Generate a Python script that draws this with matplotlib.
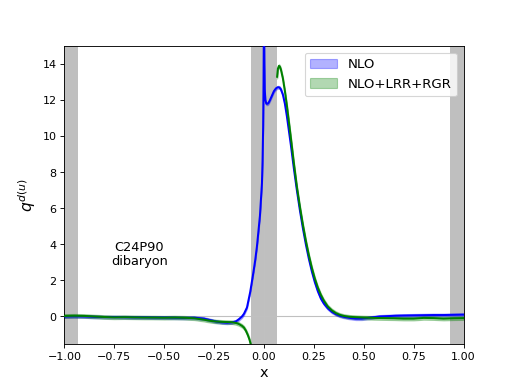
import numpy as np
import matplotlib
matplotlib.use("Agg")
import matplotlib.pyplot as plt

# NLO (blue) curve
x_nlo = [-1.0, -0.95, -0.9, -0.85, -0.8, -0.75, -0.7, -0.65, -0.6, -0.55, -0.5,
         -0.45, -0.4, -0.35, -0.3, -0.27, -0.24, -0.21, -0.185, -0.16, -0.14,
         -0.125, -0.11, -0.1, -0.085, -0.069, -0.055, -0.044, -0.035, -0.027,
         -0.02, -0.015, -0.01, -0.007, -0.004, -0.002, 0.0, 0.002, 0.004,
         0.007, 0.012, 0.018, 0.023, 0.03, 0.04, 0.05, 0.06, 0.07, 0.078,
         0.085, 0.095, 0.105, 0.115, 0.125, 0.135, 0.15, 0.165, 0.18, 0.195,
         0.21, 0.225, 0.24, 0.255, 0.27, 0.285, 0.3, 0.32, 0.34, 0.36, 0.38,
         0.4, 0.43, 0.46, 0.49, 0.52, 0.55, 0.58, 0.62, 0.66, 0.7, 0.75, 0.8,
         0.85, 0.9, 0.95, 1.0]
y_nlo = [0.0, 0.01, 0.0, -0.02, -0.03, -0.03, -0.04, -0.05, -0.05, -0.06, -0.06,
         -0.07, -0.08, -0.07, -0.12, -0.2, -0.28, -0.33, -0.35, -0.33, -0.27,
         -0.15, 0.0, 0.15, 0.5, 1.35, 2.3, 3.1, 3.9, 4.8,
         5.6, 6.5, 7.4, 8.6, 10.5, 13.0, 17.0, 14.0, 12.6,
         12.0, 11.8, 11.8, 11.85, 12.0, 12.25, 12.5, 12.65, 12.72, 12.7,
         12.6, 12.3, 11.8, 11.1, 10.3, 9.5, 8.2, 7.0, 5.9, 4.9,
         4.0, 3.2, 2.5, 1.9, 1.4, 1.0, 0.72, 0.45, 0.26, 0.13, 0.04,
         -0.02, -0.08, -0.12, -0.12, -0.08, -0.04, 0.0, 0.02, 0.04, 0.05, 0.06, 0.07,
         0.08, 0.08, 0.09, 0.1]

# NLO+LRR+RGR (green) curve, left part
x_lrr_left = [-1.0, -0.95, -0.9, -0.85, -0.8, -0.75, -0.7, -0.65, -0.6, -0.55, -0.5,
              -0.45, -0.4, -0.35, -0.3, -0.27, -0.24, -0.21, -0.185, -0.16, -0.14,
              -0.125, -0.11, -0.1, -0.09, -0.08, -0.072, -0.065, -0.058]
y_lrr_left = [0.03, 0.04, 0.03, 0.0, -0.03, -0.05, -0.04, -0.05, -0.06, -0.06, -0.07,
              -0.06, -0.07, -0.1, -0.18, -0.24, -0.28, -0.3, -0.31, -0.32, -0.36,
              -0.42, -0.52, -0.62, -0.8, -1.05, -1.3, -1.6, -2.0]

# NLO+LRR+RGR (green) curve, right part
x_lrr_right = [0.066, 0.07, 0.075, 0.08, 0.085, 0.095, 0.105, 0.115, 0.125, 0.135,
               0.15, 0.165, 0.18, 0.195, 0.21, 0.225, 0.24, 0.255, 0.27, 0.285,
               0.3, 0.32, 0.34, 0.36, 0.38, 0.4, 0.43, 0.46, 0.5, 0.55, 0.6,
               0.65, 0.7, 0.75, 0.8, 0.85, 0.9, 0.95, 1.0]
y_lrr_right = [13.3, 13.75, 13.9, 13.85, 13.7, 13.2, 12.5, 11.7, 10.8, 9.9,
               8.5, 7.2, 6.1, 5.1, 4.2, 3.4, 2.7, 2.1, 1.6, 1.2,
               0.88, 0.55, 0.34, 0.19, 0.09, 0.03, -0.02, -0.04, -0.06, -0.08, -0.09,
               -0.1, -0.12, -0.12, -0.08, -0.09, -0.12, -0.1, -0.09]

band_edges = [(-1.0, -14 / 15), (-1 / 15, 1 / 15), (14 / 15, 1.0)]

fig, ax = plt.subplots(figsize=(6.4, 4.8), dpi=80.47)

for lo, hi in band_edges:
    ax.axvspan(lo, hi, color='gray', alpha=0.5, lw=0, zorder=0)
ax.axhline(0, color='silver', lw=1, zorder=1)
ax.axvline(0, color='silver', lw=1, zorder=1)

xb = np.array(x_nlo); yb = np.array(y_nlo)
ax.fill_between(xb, yb - 0.08, yb + 0.08, color='blue', alpha=0.3, label='NLO', zorder=2)
ax.plot(xb, yb, color='blue', lw=1.8, zorder=3)

for xs, ys, lab in [(x_lrr_left, y_lrr_left, 'NLO+LRR+RGR'), (x_lrr_right, y_lrr_right, None)]:
    xg = np.array(xs); yg = np.array(ys)
    ax.fill_between(xg, yg - 0.1, yg + 0.1, color='green', alpha=0.3, label=lab, zorder=2)
    ax.plot(xg, yg, color='green', lw=1.8, zorder=3)

ax.set_xlim(-1, 1)
ax.set_ylim(-1.5, 15)
ax.set_xlabel('x', fontsize=13)
ax.set_ylabel('$q^{d(u)}$', fontsize=14)
ax.text(-0.625, 3.45, 'C24P90\ndibaryon', ha='center', va='center', fontsize=11.5, linespacing=1.1)
ax.legend(loc='upper right', fontsize=12)

fig.savefig('out.png', dpi=80.47)
